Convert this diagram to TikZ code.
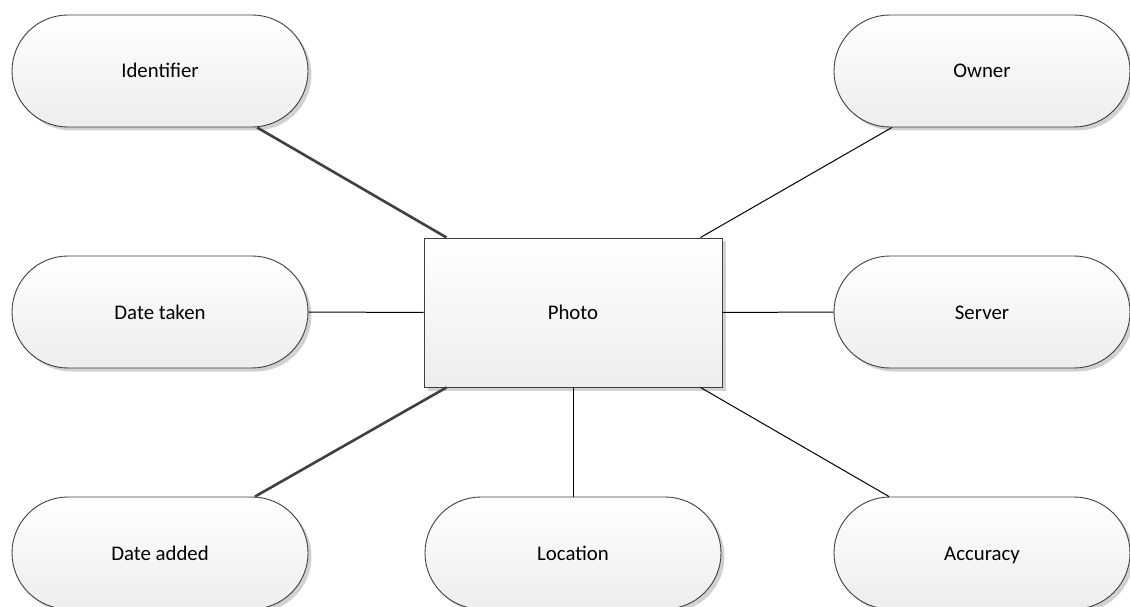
\documentclass[tikz,border=0pt]{standalone}
\usepackage{fontspec}
\setmainfont{Carlito}
\usetikzlibrary{shapes.misc,shadows,calc}
\begin{document}
\begin{tikzpicture}[x=1pt,y=1pt,
  box/.style={draw=black!75, line width=0.9pt, top color=white, bottom color=black!7,
    drop shadow={shadow xshift=3.5pt, shadow yshift=-3.5pt, fill=black!18, opacity=1},
    font=\fontsize{20.8}{24}\selectfont, inner sep=0pt, text height=16pt, text depth=2pt},
  attr/.style={box, rounded rectangle, minimum width=296pt, minimum height=112pt},
  ent/.style={box, rectangle, minimum width=298pt, minimum height=149pt},
  thin/.style={draw=black, line width=1pt},
  thick/.style={draw=black!75, line width=2.6pt}]
\useasboundingbox (0,0) rectangle (1130,606);
\node[ent] (photo) at (573,293.5) {Photo};
\node[attr] (id) at (160,535) {Identifier};
\node[attr] (owner) at (982,535) {Owner};
\node[attr] (dtaken) at (160,294) {Date taken};
\node[attr] (server) at (982,294) {Server};
\node[attr] (dadded) at (160,53) {Date added};
\node[attr] (loc) at (573,53) {Location};
\node[attr] (acc) at (982,53) {Accuracy};
\draw[thick] ($(id.south)+(97,0)$) -- ($(photo.north west)+(23,0)$);
\draw[thin] ($(owner.south)+(-90,0)$) -- ($(photo.north east)+(-22,0)$);
\draw[thin] (dtaken.east) -- (photo.west);
\draw[thin] (server.west) -- (photo.east);
\draw[thick] ($(dadded.north)+(95,0)$) -- ($(photo.south west)+(23,0)$);
\draw[thin] (loc.north) -- (photo.south);
\draw[thin] ($(acc.north)+(-93,0)$) -- ($(photo.south east)+(-22,0)$);
\end{tikzpicture}
\end{document}
